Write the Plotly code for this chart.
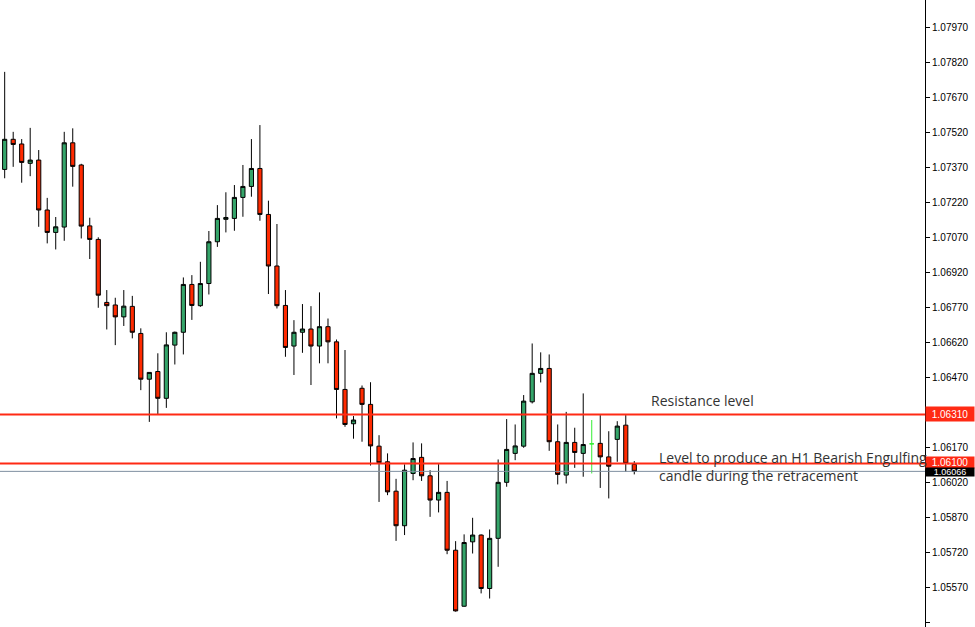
import plotly.graph_objects as go

# ---- data (EURUSD H1-style candles) ----
open_ = [1.07360, 1.07489, 1.07469, 1.07386, 1.07400, 1.07186, 1.07090, 1.07113, 1.07474, 1.07379,
         1.07118, 1.07060, 1.06790, 1.06779, 1.06728, 1.06773, 1.06657, 1.06461, 1.06494, 1.06379,
         1.06607, 1.06662, 1.06867, 1.06776, 1.06871, 1.07050, 1.07146, 1.07150, 1.07240, 1.07287,
         1.07364, 1.07167, 1.06946, 1.06777, 1.06603, 1.06662, 1.06676, 1.06603, 1.06686, 1.06621,
         1.06417, 1.06270, 1.06422, 1.06353, 1.06174, 1.06107, 1.05981, 1.05833, 1.06057, 1.06126,
         1.06047, 1.05943, 1.05976, 1.05728, 1.05488, 1.05764, 1.05793, 1.05564, 1.05779, 1.06019,
         1.06143, 1.06174, 1.06364, 1.06486, 1.06507, 1.06193, 1.06050, 1.06190, 1.06143, 1.06184,
         1.06186, 1.06128, 1.06203, 1.06264, 1.06096]
high = [1.07778, 1.07521, 1.07490, 1.07538, 1.07443, 1.07238, 1.07156, 1.07521, 1.07536, 1.07384,
        1.07153, 1.07069, 1.06843, 1.06810, 1.06843, 1.06818, 1.06679, 1.06490, 1.06572, 1.06662,
        1.06665, 1.06897, 1.06907, 1.06964, 1.07096, 1.07207, 1.07262, 1.07293, 1.07379, 1.07490,
        1.07550, 1.07226, 1.07126, 1.06843, 1.06714, 1.06783, 1.06774, 1.06833, 1.06721, 1.06631,
        1.06586, 1.06303, 1.06434, 1.06448, 1.06221, 1.06143, 1.06034, 1.06096, 1.06190, 1.06186,
        1.06071, 1.06097, 1.06025, 1.05767, 1.05796, 1.05867, 1.05796, 1.05817, 1.06117, 1.06290,
        1.06267, 1.06393, 1.06614, 1.06576, 1.06567, 1.06267, 1.06321, 1.06253, 1.06400, 1.06286,
        1.06307, 1.06238, 1.06281, 1.06307, 1.06110]
low = [1.07322, 1.07371, 1.07303, 1.07331, 1.07114, 1.07043, 1.07017, 1.07054, 1.07286, 1.07064,
       1.06976, 1.06767, 1.06674, 1.06607, 1.06689, 1.06636, 1.06414, 1.06278, 1.06311, 1.06338,
       1.06524, 1.06567, 1.06715, 1.06771, 1.06824, 1.07028, 1.07090, 1.07097, 1.07157, 1.07243,
       1.07140, 1.06826, 1.06764, 1.06557, 1.06479, 1.06574, 1.06436, 1.06529, 1.06529, 1.06293,
       1.06257, 1.06206, 1.06193, 1.06091, 1.05935, 1.05964, 1.05768, 1.05793, 1.06028, 1.06025,
       1.05871, 1.05890, 1.05711, 1.05465, 1.05486, 1.05714, 1.05543, 1.05521, 1.05657, 1.06000,
       1.06114, 1.06167, 1.06357, 1.06447, 1.06154, 1.06010, 1.06014, 1.06081, 1.06043, 1.06057,
       1.05995, 1.05950, 1.06107, 1.06064, 1.06053]
close = [1.07489, 1.07467, 1.07390, 1.07400, 1.07186, 1.07090, 1.07114, 1.07474, 1.07373, 1.07117,
         1.07060, 1.06821, 1.06776, 1.06728, 1.06774, 1.06662, 1.06461, 1.06490, 1.06379, 1.06608,
         1.06662, 1.06867, 1.06777, 1.06871, 1.07050, 1.07150, 1.07154, 1.07240, 1.07287, 1.07364,
         1.07167, 1.06946, 1.06776, 1.06597, 1.06662, 1.06676, 1.06603, 1.06686, 1.06621, 1.06417,
         1.06267, 1.06286, 1.06353, 1.06175, 1.06103, 1.05978, 1.05833, 1.06071, 1.06121, 1.06047,
         1.05943, 1.05976, 1.05728, 1.05468, 1.05761, 1.05793, 1.05564, 1.05779, 1.06019, 1.06160,
         1.06175, 1.06367, 1.06486, 1.06507, 1.06193, 1.06053, 1.06190, 1.06147, 1.06181, 1.06184,
         1.06128, 1.06088, 1.06260, 1.06100, 1.06066]

doji_index = 69  # candle drawn in bright green (open == close)

tick_vals = [1.05420, 1.05570, 1.05720, 1.05870, 1.06020, 1.06170, 1.06320, 1.06470, 1.06620,
             1.06770, 1.06920, 1.07070, 1.07220, 1.07370, 1.07520, 1.07670, 1.07820, 1.07970]
hidden_ticks = [1.06320]  # covered by the resistance price tag
tick_text = ["" if v in hidden_ticks else "%.5f" % v for v in tick_vals]

resistance = 1.06310
engulf_level = 1.06100
current_price = 1.06066

annotation_texts = ["Resistance level",
                    "Level to produce an H1 Bearish Engulfing<br>candle during the retracement"]

# ---- figure ----
x = list(range(len(open_)))
main_o = [None if i == doji_index else v for i, v in enumerate(open_)]
main_h = [None if i == doji_index else v for i, v in enumerate(high)]
main_l = [None if i == doji_index else v for i, v in enumerate(low)]
main_c = [None if i == doji_index else v for i, v in enumerate(close)]

fig = go.Figure()
fig.add_trace(go.Candlestick(
    x=x, open=main_o, high=main_h, low=main_l, close=main_c,
    increasing=dict(line=dict(color="#000000", width=1), fillcolor="#35a56a"),
    decreasing=dict(line=dict(color="#000000", width=1), fillcolor="#ff2a00"),
    whiskerwidth=0, hoverinfo="skip", showlegend=False,
))
fig.add_trace(go.Candlestick(
    x=[x[doji_index]], open=[open_[doji_index]], high=[high[doji_index]],
    low=[low[doji_index]], close=[close[doji_index]],
    increasing=dict(line=dict(color="#33ee33", width=1), fillcolor="#33ee33"),
    decreasing=dict(line=dict(color="#33ee33", width=1), fillcolor="#33ee33"),
    whiskerwidth=0, hoverinfo="skip", showlegend=False,
))

# horizontal levels
fig.add_hline(y=current_price, line=dict(color="#7f8fa0", width=1))
fig.add_hline(y=engulf_level, line=dict(color="#ff2a14", width=2))
fig.add_hline(y=resistance, line=dict(color="#ff2a14", width=2))

# price tags on axis
def tag(y, text, bg, size=10, h=14, yshift=0):
    fig.add_annotation(x=1, xref="paper", y=y, yref="y", text=text, showarrow=False,
                       xanchor="left", yanchor="middle", xshift=0, yshift=yshift,
                       bgcolor=bg, width=48, height=h, borderpad=0,
                       font=dict(family="Liberation Sans", size=size, color="#ffffff"))

tag(resistance, "%.5f" % resistance, "#ff2a14")
tag(engulf_level, "%.5f" % engulf_level, "#ff2a14", h=11, yshift=1)
tag(current_price, "%.5f" % current_price, "#000000", size=9, h=8, yshift=-1)

# text annotations (positioned in data coordinates to the right of the last candle)
fig.add_annotation(x=75.7, xref="x", y=resistance, yref="y", text=annotation_texts[0],
                   showarrow=False, xanchor="left", yanchor="bottom", yshift=2, align="left",
                   font=dict(family="Open Sans", size=14, color="#333333"))
fig.add_annotation(x=76.7, xref="x", y=engulf_level, yref="y", text=annotation_texts[1],
                   showarrow=False, xanchor="left", yanchor="middle", yshift=-3, align="left",
                   font=dict(family="Open Sans", size=14, color="#333333"))

fig.update_layout(
    width=975, height=627,
    margin=dict(l=0, r=50, t=0, b=0),
    paper_bgcolor="#ffffff", plot_bgcolor="#ffffff",
    showlegend=False,
    xaxis=dict(range=[-0.55, 108.17], showgrid=False, zeroline=False, showticklabels=False,
               rangeslider=dict(visible=False), side="top", showline=True,
               linecolor="#000000", linewidth=1, ticks=""),
    yaxis=dict(range=[1.05399, 1.08086], side="right", showgrid=False, zeroline=False,
               showline=True, linecolor="#000000", linewidth=1,
               tickvals=tick_vals, ticktext=tick_text, ticks="outside", ticklen=4,
               tickcolor="#000000",
               tickfont=dict(family="Liberation Sans", size=10, color="#000000")),
)

fig.write_html("out.html", config={"displayModeBar": False},
               post_script="document.body.style.margin='0';document.body.style.overflow='hidden';")
